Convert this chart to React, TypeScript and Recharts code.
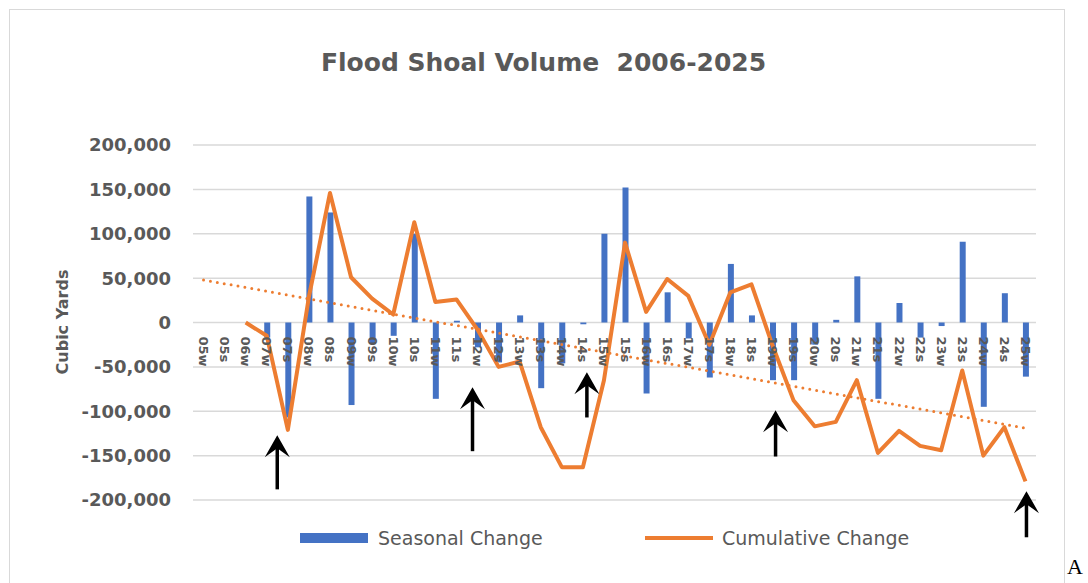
import React from 'react';
import {
  ComposedChart,
  Bar,
  Line,
  XAxis,
  YAxis,
  CartesianGrid,
  ReferenceLine,
} from 'recharts';

// survey periods (w = winter, s = summer)
const categories = [
  '05w', '05s', '06w', '07w', '07s', '08w', '08s', '09w', '09s', '10w',
  '10s', '11w', '11s', '12w', '12s', '13w', '13s', '14w', '14s', '15w',
  '15s', '16w', '16s', '17w', '17s', '18w', '18s', '19w', '19s', '20w',
  '20s', '21w', '21s', '22w', '22s', '23w', '23s', '24w', '24s', '25w',
];

const seasonalChange = [
  null, null, null, -17000, -107000, 142000, 124000, -93000, -24000, -15000,
  100000, -86000, 2000, -28000, -45000, 8000, -74000, -46000, -2000, 100000,
  152000, -80000, 34000, -18000, -62000, 66000, 8000, -65000, -65000, -25000,
  3000, 52000, -86000, 22000, -17000, -4000, 91000, -95000, 33000, -61000,
];

const cumulativeChange = [
  null, null, 0, -15000, -121000, 29000, 146000, 51000, 27000, 9000,
  113000, 23000, 26000, -8000, -50000, -44000, -118000, -163000, -163000, -65000,
  90000, 12000, 49000, 30000, -25000, 34000, 43000, -26000, -88000, -117000,
  -112000, -65000, -147000, -122000, -139000, -144000, -54000, -150000, -118000, -179000,
];

// linear trend of the cumulative change: value at first and last period
const trendEnds = [48000, -119000];

const yTicks = [200000, 150000, 100000, 50000, 0, -50000, -100000, -150000, -200000];

// annotation arrows: period, tip value, tail value
const arrows = [
  { at: '07w', tip: -127000, tail: -188000 },
  { at: '12w', tip: -73000, tail: -145000 },
  { at: '14s', tip: -56000, tail: -107000 },
  { at: '19w', tip: -99000, tail: -151000 },
  { at: '25w', tip: -190000, tail: -242000 },
];
const arrowNudge = [10.5, -5, 4, 3, 1];

const seriesNames = ['Seasonal Change', 'Cumulative Change'];

const BLUE = '#4472c4';
const ORANGE = '#ed7d31';
const TEXT = '#595959';
const GRID = '#d9d9d9';
const FONT = 'DejaVu Sans';

const W = 1050;
const H = 570;
const M = { top: 135, right: 24, bottom: 50, left: 0 };
const Y_AXIS_W = 183;
const PLOT_H = H - M.top - M.bottom - 30;
const ZERO_Y = M.top + PLOT_H / 2;

const data = categories.map((cat, i) => ({
  cat,
  seasonal: seasonalChange[i],
  cumulative: cumulativeChange[i],
  trend: i === 0 ? trendEnds[0] : i === categories.length - 1 ? trendEnds[1] : null,
}));

const XTick = (props: any) => {
  const { x, payload } = props;
  const y0 = ZERO_Y + 14;
  return (
    <text
      x={x}
      y={y0}
      transform={`rotate(90, ${x}, ${y0})`}
      textAnchor="start"
      dominantBaseline="central"
      fill={TEXT}
      fontFamily={FONT}
      fontWeight="bold"
      fontSize={13}
    >
      {payload.value}
    </text>
  );
};

const arrowShape = (nudge: number) => (p: any) => {
  const x = p.x1 + nudge;
  const y1 = p.y1;
  const y2 = p.y2;
  return (
    <g>
      <line x1={x} y1={y1 + 8} x2={x} y2={y2} stroke="#000" strokeWidth={3.5} />
      <path
        d={`M${x},${y1} L${x + 12.5},${y1 + 22} L${x},${y1 + 13} L${x - 12.5},${y1 + 22} Z`}
        fill="#000"
      />
    </g>
  );
};

const App = () => {
  return (
    <div
      style={{
        position: 'fixed',
        left: 0,
        top: 0,
        width: 1088,
        height: 583,
        overflow: 'hidden',
        background: '#fff',
        fontFamily: FONT,
      }}
    >
      <div
        style={{
          position: 'absolute',
          left: 9,
          top: 9,
          width: 1056,
          height: 600,
          border: `1px solid ${GRID}`,
          boxSizing: 'border-box',
        }}
      />
      <div
        style={{
          position: 'absolute',
          left: 0,
          top: 47,
          width: 1087,
          textAlign: 'center',
          fontSize: 25,
          lineHeight: '32px',
          fontWeight: 'bold',
          color: TEXT,
          whiteSpace: 'pre',
        }}
      >
        {'Flood Shoal Volume  2006-2025'}
      </div>
      <div
        style={{
          position: 'absolute',
          left: 62,
          top: 322,
          transform: 'translate(-50%, -50%) rotate(-90deg)',
          fontSize: 16,
          fontWeight: 'bold',
          color: TEXT,
          whiteSpace: 'nowrap',
        }}
      >
        Cubic Yards
      </div>

      <div style={{ position: 'absolute', left: 10, top: 10 }}>
        <ComposedChart width={W} height={H} data={data} margin={M}>
          <CartesianGrid horizontal vertical={false} stroke={GRID} strokeWidth={1.5} />
          <YAxis
            width={Y_AXIS_W}
            domain={[-200000, 200000]}
            ticks={yTicks}
            interval={0}
            axisLine={false}
            tickLine={false}
            tickMargin={16}
            tickFormatter={(v: number) => v.toLocaleString('en-US')}
            tick={{ fill: TEXT, fontSize: 18, fontWeight: 'bold', fontFamily: FONT }}
          />
          <Bar
            dataKey="seasonal"
            name={seriesNames[0]}
            fill={BLUE}
            barSize={6}
            isAnimationActive={false}
          />
          <XAxis
            dataKey="cat"
            height={30}
            interval={0}
            axisLine={false}
            tickLine={false}
            tick={<XTick />}
          />
          <Line
            dataKey="trend"
            type="linear"
            stroke={ORANGE}
            strokeWidth={3}
            strokeDasharray="0 7"
            strokeLinecap="round"
            dot={false}
            connectNulls
            isAnimationActive={false}
          />
          <Line
            dataKey="cumulative"
            name={seriesNames[1]}
            type="linear"
            stroke={ORANGE}
            strokeWidth={4}
            strokeLinejoin="round"
            dot={false}
            isAnimationActive={false}
          />
          {arrows.map((a, i) => (
            <ReferenceLine
              key={a.at}
              segment={[
                { x: a.at, y: a.tip },
                { x: a.at, y: a.tail },
              ]}
              ifOverflow="visible"
              shape={arrowShape(arrowNudge[i])}
            />
          ))}
        </ComposedChart>
      </div>

      <div style={{ position: 'absolute', left: 300, top: 533, width: 68, height: 10, background: BLUE }} />
      <div
        style={{
          position: 'absolute',
          left: 378,
          top: 526,
          lineHeight: '24px',
          fontSize: 19,
          color: TEXT,
          whiteSpace: 'nowrap',
        }}
      >
        {seriesNames[0]}
      </div>
      <div style={{ position: 'absolute', left: 645, top: 536, width: 68, height: 4, background: ORANGE }} />
      <div
        style={{
          position: 'absolute',
          left: 722,
          top: 526,
          lineHeight: '24px',
          fontSize: 19,
          color: TEXT,
          whiteSpace: 'nowrap',
        }}
      >
        {seriesNames[1]}
      </div>

      <div
        style={{
          position: 'absolute',
          left: 1067,
          top: 556,
          fontFamily: 'serif',
          fontSize: 22,
          lineHeight: 1,
          color: '#000',
        }}
      >
        A
      </div>
    </div>
  );
};

export default App;
